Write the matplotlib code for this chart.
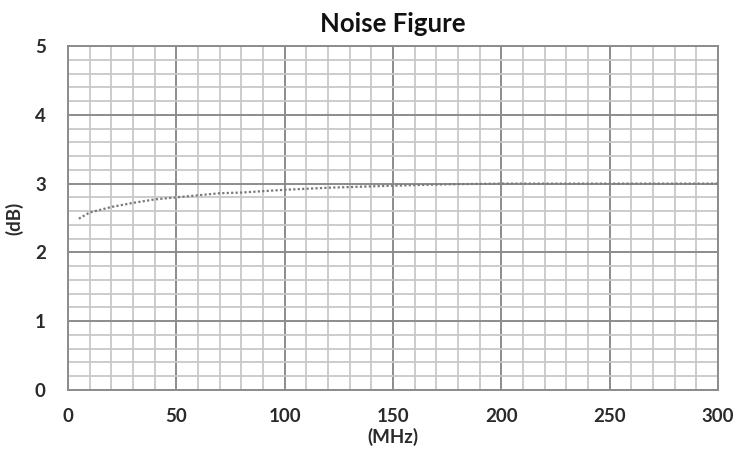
import matplotlib
matplotlib.use("Agg")
import matplotlib.pyplot as plt
from matplotlib.ticker import MultipleLocator

freq_mhz = [5, 10, 20, 30, 40, 50, 60, 70, 80, 90, 100, 120, 150, 175, 200, 250, 300]
nf_db = [2.49, 2.58, 2.66, 2.72, 2.77, 2.80, 2.83, 2.86, 2.87, 2.89, 2.91, 2.94, 2.97, 2.99, 3.0, 3.0, 3.0]
x_ticks = [0, 50, 100, 150, 200, 250, 300]
y_ticks = [0, 1, 2, 3, 4, 5]

plt.rcParams['font.family'] = ['Lato', 'DejaVu Sans']

fig = plt.figure(figsize=(7.56, 4.58), dpi=100)
ax = fig.add_axes([68/756, 68/458, 650/756, 344/458])

ax.set_xlim(0, 300)
ax.set_ylim(0, 5)
ax.set_xticks(x_ticks)
ax.set_yticks(y_ticks)
ax.xaxis.set_minor_locator(MultipleLocator(10))
ax.yaxis.set_minor_locator(MultipleLocator(0.2))
ax.grid(which='minor', color='#c8c8c8', linewidth=1.3, zorder=0)
ax.grid(which='major', color='#8c8c8c', linewidth=1.4, zorder=0)
ax.set_axisbelow(True)
for s in ax.spines.values():
    s.set_color('#8c8c8c')
    s.set_linewidth(1.4)

ax.plot(freq_mhz, nf_db, linestyle=(0, (1, 1)), color='#7a7a7a', linewidth=1.6, zorder=3)

ax.tick_params(which='both', length=0)
ax.tick_params(axis='x', pad=13, labelsize=13.5)
ax.tick_params(axis='y', pad=16, labelsize=13.5)
for lbl in ax.get_xticklabels() + ax.get_yticklabels():
    lbl.set_fontweight('bold')
    lbl.set_color('#2a2a2a')

ax.set_title('Noise Figure', fontsize=18.5, fontweight='bold', color='#111111', pad=10)
ax.set_xlabel('(MHz)', fontsize=13.5, fontweight='bold', color='#2a2a2a', labelpad=2)
ax.set_ylabel('(dB)', fontsize=13.5, fontweight='bold', color='#2a2a2a', labelpad=8)

fig.savefig('out.png', dpi=100, facecolor='white')
